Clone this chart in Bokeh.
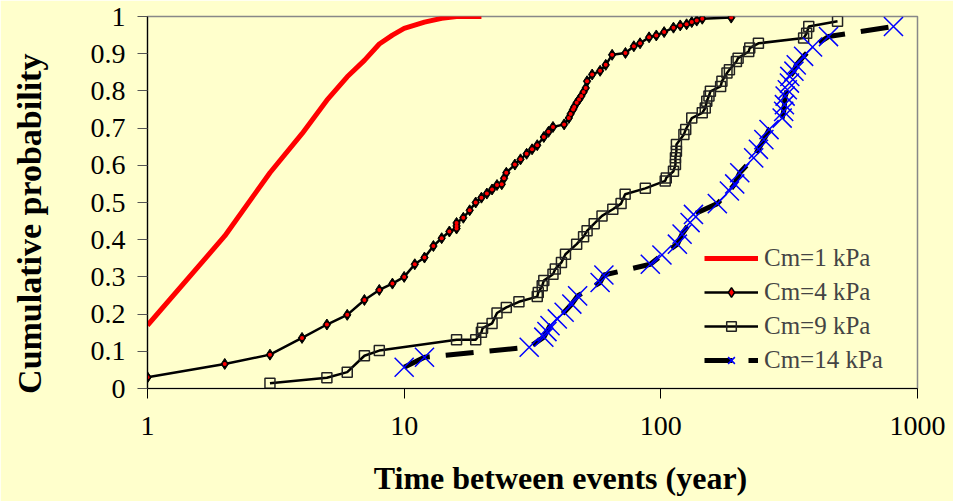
from bokeh.plotting import figure
from bokeh.models import Range1d, FixedTicker, NumeralTickFormatter, Legend, LegendItem
from bokeh.embed import file_html
from bokeh.resources import INLINE

# Cm = 1 kPa
t1 = [1, 2, 3, 4, 5, 6, 7, 8, 9, 10, 12, 14, 16, 18, 20]
p1 = [0.17, 0.41, 0.58, 0.685, 0.775, 0.838, 0.882, 0.926, 0.95, 0.968, 0.985, 0.995, 1.0, 1.0, 1.0]

# Cm = 4 kPa
t4 = [1, 2, 3, 4, 5, 6, 7, 8, 9, 10, 11, 12, 13, 14, 15, 16, 16, 16, 17, 18, 19, 20, 21, 22, 23, 24,
      24.5, 25, 27, 28.4, 30, 31.5, 33, 35, 36.5, 38, 42, 43.8, 44.5, 45.5, 46, 47, 48, 49, 50, 51,
      51.6, 54, 58, 61, 64.6, 72.8, 78.5, 83, 90, 96, 103, 112, 119, 126, 132, 138, 145, 188]
p4 = [0.030, 0.066, 0.091, 0.136, 0.172, 0.198, 0.238, 0.265, 0.282, 0.300, 0.334, 0.352, 0.383,
      0.404, 0.422, 0.430, 0.437, 0.445, 0.459, 0.479, 0.500, 0.513, 0.524, 0.535, 0.547, 0.549,
      0.565, 0.580, 0.602, 0.616, 0.631, 0.643, 0.654, 0.676, 0.690, 0.703, 0.710, 0.727, 0.738,
      0.750, 0.757, 0.768, 0.777, 0.786, 0.797, 0.808, 0.826, 0.844, 0.854, 0.870, 0.897, 0.902,
      0.920, 0.928, 0.944, 0.949, 0.958, 0.970, 0.976, 0.979, 0.985, 0.989, 0.994, 0.997]

# Cm = 9 kPa
t9 = [3, 5, 6, 7, 8, 16, 19, 20, 20.2, 22, 23, 25, 28, 33, 33.3, 34.5, 35, 38, 38.8, 41, 42.5, 47,
      50, 51.6, 55, 59, 65, 70, 72.6, 87, 104, 105, 112, 114, 114, 115, 115, 123, 125, 132, 145,
      149, 151, 154, 156, 171, 173, 181, 185, 197, 200, 220, 222, 240, 360, 370, 377, 488]
p9 = [0.014, 0.029, 0.044, 0.088, 0.102, 0.131, 0.131, 0.151, 0.162, 0.175, 0.203, 0.218, 0.233,
      0.247, 0.258, 0.276, 0.290, 0.307, 0.321, 0.339, 0.361, 0.388, 0.408, 0.424, 0.443, 0.464,
      0.482, 0.497, 0.522, 0.538, 0.558, 0.566, 0.584, 0.602, 0.620, 0.638, 0.656, 0.683, 0.696,
      0.727, 0.741, 0.754, 0.772, 0.786, 0.799, 0.812, 0.826, 0.848, 0.857, 0.879, 0.888, 0.906,
      0.915, 0.928, 0.942, 0.955, 0.973, 0.987]

# Cm = 14 kPa
t14 = [10, 12, 30.7, 35, 36, 37, 39.5, 42, 45, 47.4, 58, 60, 91, 101, 116, 121, 130, 134, 166, 185,
       194, 203, 230, 240, 252, 264, 297, 301, 303, 305, 311, 317, 318, 330, 337, 360, 390, 450, 806]
p14 = [0.057, 0.084, 0.111, 0.138, 0.153, 0.169, 0.187, 0.205, 0.227, 0.249, 0.285, 0.305, 0.334,
       0.359, 0.388, 0.415, 0.446, 0.468, 0.497, 0.531, 0.550, 0.580, 0.620, 0.643, 0.669, 0.696,
       0.727, 0.745, 0.763, 0.786, 0.803, 0.821, 0.839, 0.853, 0.870, 0.893, 0.918, 0.946, 0.973]

x_ticks = [1, 10, 100, 1000]
y_ticks = [0, 0.1, 0.2, 0.3, 0.4, 0.5, 0.6, 0.7, 0.8, 0.9, 1.0]
x_title = "Time between events (year)"
y_title = "Cumulative probability"

BG = "#FFFFCC"
FONT = "Liberation Serif"
NBSP = "\u00a0"

p = figure(width=953, height=501, x_axis_type="log", output_backend="svg", toolbar_location=None,
           x_range=Range1d(1, 1000), y_range=Range1d(0, 1),
           min_border_left=147, min_border_right=36, min_border_top=16, min_border_bottom=113)
p.background_fill_color = BG
p.border_fill_color = BG
p.outline_line_color = "#888888"
p.outline_line_width = 1.5
p.grid.visible = False

p.xaxis.ticker = FixedTicker(ticks=x_ticks)
p.yaxis.ticker = FixedTicker(ticks=y_ticks)
p.xaxis.formatter = NumeralTickFormatter(format="0")
p.yaxis.formatter = NumeralTickFormatter(format="0.[0]")
for ax in (p.xaxis[0], p.yaxis[0]):
    ax.axis_line_color = "black"
    ax.axis_line_width = 1.2
    ax.major_tick_in = 0
    ax.major_tick_out = 10
    ax.minor_tick_line_color = None
    ax.major_label_text_font = FONT
    ax.major_label_text_font_size = "28px"
    ax.major_label_text_color = "black"
    ax.axis_label_text_font = FONT
    ax.axis_label_text_font_style = "bold"
    ax.axis_label_text_color = "black"
p.yaxis.major_tick_line_color = "#555555"
p.xaxis.major_tick_line_color = "black"
p.yaxis.major_label_standoff = 12
p.xaxis.major_label_standoff = 18

# axis titles (padding spaces shift the centred text to where the reference puts it)
p.xaxis.axis_label = NBSP * 7 + x_title
p.xaxis.axis_label_text_font_size = "32px"
p.xaxis.axis_label_standoff = 22
p.yaxis.axis_label = y_title + NBSP * 5
p.yaxis.axis_label_text_font_size = "34px"
p.yaxis.axis_label_standoff = 40

r1 = p.line(t1, p1, line_color="#FF0000", line_width=5)
r4l = p.line(t4, p4, line_color="black", line_width=2.5)
# legend marker for the Cm=4 entry (hidden underneath the plotted markers)
r4legend = p.scatter(t4[:1], p4[:1], marker="diamond", size=9, fill_color="#FF0000",
                     line_color="black", line_width=1.5)
r4m = p.scatter(t4, p4, marker="diamond", size=11, fill_color="black", line_color="black", line_width=1)
r4c = p.scatter(t4, p4, marker="circle", size=4, fill_color="#FF0000", line_color=None)
r9l = p.line(t9, p9, line_color="black", line_width=2.5)
r9m = p.scatter(t9, p9, marker="square", size=10, fill_color=None, line_color="#222222", line_width=1.5)
r14l = p.line(t14, p14, line_color="black", line_width=5, line_dash="28 16")
r14m = p.scatter(t14, p14, marker="x", size=27, line_color="#0000FF", line_width=1.5)

legend = Legend(items=[
    LegendItem(label="Cm=1 kPa", renderers=[r1]),
    LegendItem(label="Cm=4 kPa", renderers=[r4l, r4legend]),
    LegendItem(label="Cm=9 kPa", renderers=[r9l, r9m]),
    LegendItem(label="Cm=14 kPa", renderers=[r14l, r14m]),
], location=(555, 12))
legend.background_fill_alpha = 0
legend.border_line_alpha = 0
legend.label_text_font = FONT
legend.label_text_font_size = "25px"
legend.glyph_width = 54
legend.glyph_height = 24
legend.spacing = 6
legend.label_standoff = 6
legend.padding = 2
legend.margin = 0
p.add_layout(legend, "center")

open("out.html", "w").write(file_html(p, INLINE))
